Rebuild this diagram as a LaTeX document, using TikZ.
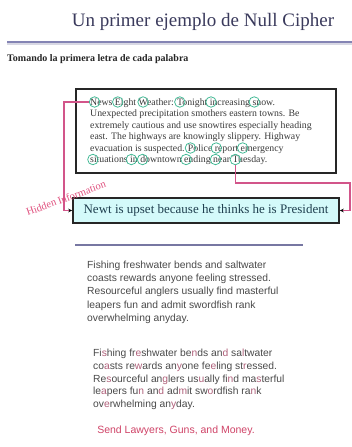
\documentclass[tikz,border=0pt]{standalone}
\usepackage{fontspec}
\setmainfont{Liberation Serif}
\setsansfont{Liberation Sans}
\usetikzlibrary{arrows.meta}

\definecolor{titleink}{HTML}{3A3A5C}
\definecolor{rulecol}{HTML}{8484B4}
\definecolor{ruleshade}{HTML}{D8D8E4}
\definecolor{ringcol}{HTML}{3DB892}
\definecolor{linkpink}{HTML}{D2558A}
\definecolor{newtfill}{HTML}{D4FAFA}
\definecolor{newtink}{HTML}{1F3F4F}
\definecolor{boxink}{HTML}{3A3A3A}
\definecolor{bodygray}{HTML}{4A4A4A}
\definecolor{thirdred}{HTML}{B0607A}
\definecolor{sendred}{HTML}{D04468}
\definecolor{hiddenpink}{HTML}{E0507E}

% font of the cipher text inside the framed box
\newcommand\boxfont{\fontsize{9.8}{11}\selectfont}
% third letter of each word, tinted
\newcommand\thl[1]{\textcolor{thirdred}{#1}}

% ring round the first letter of a word:
% #1 line node, #2 text before the letter, #3 the letter, #4 ring name
% (two invisible spacer nodes measure the text before and the letter)
\newcommand\ringat[4]{%
  \node[spacer] (#4-pre) at (#1.base west) {\phantom{#2}};
  \node[spacer] (#4-let) at (#4-pre.base east) {\phantom{#3}};
  \node[ring] (#4) at ([yshift=3pt]#4-let.base) {};}

\tikzset{
  ring/.style={circle, draw=ringcol, line width=0.75pt, minimum size=10.5pt, inner sep=0pt},
  spacer/.style={anchor=base west, inner sep=0pt, outer sep=0pt, font=\boxfont},
  boxline/.style={anchor=base west, inner sep=0pt, font=\boxfont, text=boxink},
  cipherbox/.style={draw=black!85, line width=1.5pt, minimum width=260pt, minimum height=84pt, inner sep=0pt},
  newtbox/.style={draw=black!85, line width=1.5pt, fill=newtfill, minimum width=266pt,
    minimum height=25pt, inner sep=0pt, text=newtink, font=\fontsize{13}{15}\selectfont},
  pinkline/.style={draw=linkpink, line width=1.1pt},
  pinkarrow/.style={pinkline, -{Stealth[length=4pt,width=3.5pt,black]}},
  hiddenlabel/.style={text=hiddenpink, font=\fontsize{10.5}{12}\selectfont, inner sep=0pt},
  sansline/.style={anchor=base west, inner sep=0pt, text=bodygray,
    font=\sffamily\fontsize{10.3}{12}\selectfont},
}

\begin{document}
\begin{tikzpicture}[x=1pt, y=-1pt]
  \useasboundingbox (0,0) rectangle (352,447);
  \fill[white] (0,0) rectangle (352,447);

  % heading
  \node[text=titleink, font=\fontsize{19}{21}\selectfont, anchor=base, inner sep=0pt]
    (title) at (203,27) {Un primer ejemplo de Null Cipher};
  \fill[ruleshade] (7,43.2) rectangle (352,45.2);
  \draw[rulecol, line width=2.2pt] (7,42) -- (352,42);
  \node[anchor=base west, inner sep=0pt, font=\bfseries\fontsize{10}{12}\selectfont, text=black!85]
    (sub) at (7,61) {Tomando la primera letra de cada palabra};

  % framed cipher text
  \node[cipherbox] (cbox) at (206,131) {};
  \node[boxline] (l1) at (90,105.0) {News Eight Weather: Tonight increasing snow.};
  \node[boxline] (l2) at (90,116.5) {Unexpected precipitation smothers eastern towns.  Be};
  \node[boxline] (l3) at (90,128.0) {extremely cautious and use snowtires especially heading};
  \node[boxline] (l4) at (90,139.5) {east.  The highways are knowingly slippery.  Highway};
  \node[boxline] (l5) at (90,151.0) {evacuation is suspected.  Police report emergency};
  \node[boxline] (l6) at (90,162.5) {situations in downtown ending near Tuesday.};

  \ringat{l1}{}{N}{rN}
  \ringat{l1}{News }{E}{rE}
  \ringat{l1}{News Eight }{W}{rW}
  \ringat{l1}{News Eight Weather: }{T}{rT1}
  \ringat{l1}{News Eight Weather: Tonight }{i}{rI}
  \ringat{l1}{News Eight Weather: Tonight increasing }{s}{rS}
  \ringat{l5}{evacuation is suspected.  }{P}{rP}
  \ringat{l5}{evacuation is suspected.  Police }{r}{rR}
  \ringat{l5}{evacuation is suspected.  Police report }{e}{rE2}
  \ringat{l6}{}{s}{rS2}
  \ringat{l6}{situations }{i}{rI2}
  \ringat{l6}{situations in }{d}{rD}
  \ringat{l6}{situations in downtown }{e}{rE3}
  \ringat{l6}{situations in downtown ending }{n}{rN2}
  \ringat{l6}{situations in downtown ending near }{T}{rT}

  % decoded message
  \node[newtbox] (newt) at (206,210.5) {Newt is upset because he thinks he is President};

  % links from the ringed letters to the message
  \coordinate (lbend) at (64,0);
  \draw[pinkarrow] (rN.west) -- (rN.west -| lbend) |- (newt.west);
  \coordinate (rbend) at (350,183);
  \draw[pinkarrow] (rT.south) |- (rbend) |- (newt.east);

  \node[hiddenlabel, rotate=20] (hidden) at (66,198) {Hidden Information};

  % second example
  \draw[rulecol!90!black, line width=2pt] (75,245) -- (303,245);

  \node[sansline] (p1) at (87,268.5) {Fishing freshwater bends and saltwater};
  \node[sansline] (p2) at (87,281.7) {coasts rewards anyone feeling stressed.};
  \node[sansline] (p3) at (87,294.9) {Resourceful anglers usually find masterful};
  \node[sansline] (p4) at (87,308.1) {leapers fun and admit swordfish rank};
  \node[sansline] (p5) at (87,321.3) {overwhelming anyday.};

  \node[sansline] (q1) at (93,356.5) {Fi\thl{s}hing fr\thl{e}shwater be\thl{n}ds an\thl{d} sa\thl{l}twater};
  \node[sansline] (q2) at (93,369.3) {co\thl{a}sts re\thl{w}ards an\thl{y}one fe\thl{e}ling st\thl{r}essed.};
  \node[sansline] (q3) at (93,382.1) {Re\thl{s}ourceful an\thl{g}lers us\thl{u}ally fi\thl{n}d ma\thl{s}terful};
  \node[sansline] (q4) at (93,394.9) {le\thl{a}pers fu\thl{n} an\thl{d} ad\thl{m}it sw\thl{o}rdfish ra\thl{n}k};
  \node[sansline] (q5) at (93,407.7) {ov\thl{e}rwhelming an\thl{y}day.};

  \node[anchor=base, inner sep=0pt, text=sendred, font=\sffamily\fontsize{10.5}{12}\selectfont]
    (send) at (176,433) {Send Lawyers, Guns, and Money.};
\end{tikzpicture}
\end{document}
